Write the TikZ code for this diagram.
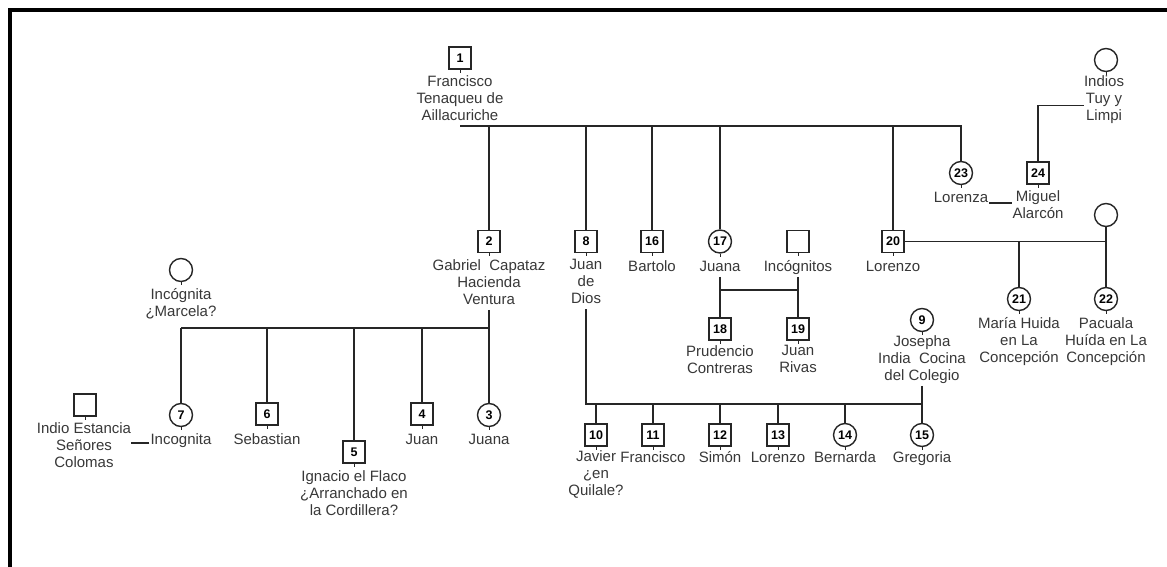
\documentclass[tikz,border=0pt]{standalone}
\usepackage{fontspec}
\setmainfont{Liberation Sans}
\definecolor{linec}{HTML}{262626}
\definecolor{textc}{HTML}{383838}
\newcommand\labfont{\fontsize{15}{17}\selectfont}
\newcommand\numfont{\fontsize{12.5}{14}\selectfont\bfseries}
\tikzset{
  ln/.style={draw=linec, line width=1.6pt},
  tickln/.style={draw=linec, line width=1pt},
  boxn/.style={draw=linec, line width=1.4pt, minimum size=22pt, inner sep=0pt, font=\numfont, fill=white, text=black},
  circn/.style={circle, draw=linec, line width=1.4pt, minimum size=23pt, inner sep=0pt, font=\numfont, fill=white, text=black},
  lab/.style={anchor=north, align=center, inner sep=0pt, font=\labfont, text=textc,
    execute at begin node=\strut, execute at end node=\strut, yshift=7.6pt},
}
\begin{document}
\begin{tikzpicture}[x=1pt,y=-1pt]
\useasboundingbox[fill=white] (0,0) rectangle (1167,567);
\draw[line width=4pt, black] (10,580) -- (10,10) -- (1180,10);

% ---------- top generation
\node[boxn] (b1) at (460,58) {1};
\node[lab] (l1) at (460,83) {Francisco\\Tenaqueu de\\Aillacuriche};

\node[circn] (cI) at (1106,60) {};
\node[lab] (lInd) at (1104,83) {Indios\\Tuy y\\Limpi};

\node[circn] (c23) at (961,173) {23};
\node[lab] (l23) at (961,198) {Lorenza};
\node[boxn] (b24) at (1038,173) {24};
\node[lab] (l24) at (1038,198) {Miguel\\Alarcón};

% ---------- second row
\node[boxn] (b2) at (489,241.5) {2};
\node[lab] (l2) at (489,267) {Gabriel\ \ Capataz\\Hacienda\\Ventura};
\node[boxn] (b8) at (586,241.5) {8};
\node[lab] (l8) at (586,267) {Juan\\de\\Dios};
\node[boxn] (b16) at (652,241.5) {16};
\node[lab] (l16) at (652,267) {Bartolo};
\node[circn] (c17) at (720,241.5) {17};
\node[lab] (l17) at (720,267) {Juana};
\node[boxn] (bInc) at (798,241.5) {};
\node[lab] (lInc) at (798,267) {Incógnitos};
\node[boxn] (b20) at (893,241.5) {20};
\node[lab] (l20) at (893,267) {Lorenzo};
\node[circn] (cTR) at (1106,215) {};

\node[circn] (c21) at (1019,299) {21};
\node[lab] (l21) at (1019,325) {María Huida\\en La\\Concepción};
\node[circn] (c22) at (1106,299) {22};
\node[lab] (l22) at (1106,325) {Pacuala\\Huída en La\\Concepción};

\node[boxn] (b18) at (720,329) {18};
\node[lab] (l18) at (720,353) {Prudencio\\Contreras};
\node[boxn] (b19) at (798,329) {19};
\node[lab] (l19) at (798,353) {Juan\\Rivas};

\node[circn] (c9) at (922,320) {9};
\node[lab] (l9) at (922,343) {Josepha\\India\ \ Cocina\\del Colegio};

% ---------- children of 8 and 9
\node[boxn] (b10) at (596,435) {10};
\node[lab] (l10) at (596,458) {Javier\\¿en\\Quilale?};
\node[boxn] (b11) at (653,435) {11};
\node[lab] (l11) at (653,458) {Francisco};
\node[boxn] (b12) at (720,435) {12};
\node[lab] (l12) at (720,458) {Simón};
\node[boxn] (b13) at (778,435) {13};
\node[lab] (l13) at (778,458) {Lorenzo};
\node[circn] (c14) at (845,435) {14};
\node[lab] (l14) at (845,458) {Bernarda};
\node[circn] (c15) at (922,435) {15};
\node[lab] (l15) at (922,458) {Gregoria};

% ---------- left family
\node[circn] (cM) at (181,270) {};
\node[lab] (lM) at (181,296) {Incógnita\\¿Marcela?};
\node[boxn] (bI) at (85,405) {};
\node[lab] (lI) at (84,430) {Indio Estancia\\Señores\\Colomas};
\node[circn] (c7) at (181,415) {7};
\node[lab] (l7) at (181,440) {Incognita};
\node[boxn] (b6) at (267,414) {6};
\node[lab] (l6) at (267,440) {Sebastian};
\node[boxn] (b5) at (354,452) {5};
\node[lab] (l5) at (354,478) {Ignacio el Flaco\\¿Arranchado en\\la Cordillera?};
\node[boxn] (b4) at (422,414) {4};
\node[lab] (l4) at (422,440) {Juan};
\node[circn] (c3) at (489,415) {3};
\node[lab] (l3) at (489,440) {Juana};

% ---------- ticks below shapes
\foreach \n in {b1,cI,c23,b24,b2,b8,b16,c17,bInc,b20,c21,c22,b18,b19,c9,b10,b11,b12,b13,c14,c15,cM,bI,c7,b6,b5,b4,c3}
  \draw[tickln] (\n.south) -- ++(0,3);

% ---------- connectors
\coordinate (j1) at (460,126);
\draw[ln] (j1) -| (c23.north);
\foreach \n in {b2,b8,b16,c17,b20}
  \draw[ln] (\n.north) -- (\n.north |- j1);

\draw[ln] ([yshift=-5pt]lInd.west) -| (b24.north);
\draw[ln] ([xshift=1pt,yshift=-4pt]l23.east) -- ([yshift=-4pt]l23.east -| l24.west);

\draw[ln] (b20.east) -- (b20.east -| cTR.south);
\draw[ln] (cTR.south) -- (c22.north);
\draw[ln] (c21.north) -- (c21.north |- b20.east);

\coordinate (j17) at (720,290);
\draw[ln] (l17.south) -- (b18.north);
\draw[ln] (lInc.south) -- (b19.north);
\draw[ln] (j17) -- (j17 -| b19.north);

\coordinate (j8) at (586,404);
\draw[ln] (l8.south) -- (j8) -- (j8 -| l9.south);
\draw[ln] (l9.south) -- (c15.north);
\foreach \n in {b10,b11,b12,b13,c14}
  \draw[ln] (\n.north) -- (\n.north |- j8);

\coordinate (jM) at (181,328);
\draw[ln] (jM) -- (c7.north);
\draw[ln] (jM) -- (jM -| l2.south);
\draw[ln] (l2.south) -- (c3.north);
\foreach \n in {b6,b5,b4}
  \draw[ln] (\n.north) -- (\n.north |- jM);

\draw[ln] ([xshift=-1pt,yshift=-2pt]l7.west) -- ([yshift=-2pt]l7.west -| lI.east);
\end{tikzpicture}
\end{document}
